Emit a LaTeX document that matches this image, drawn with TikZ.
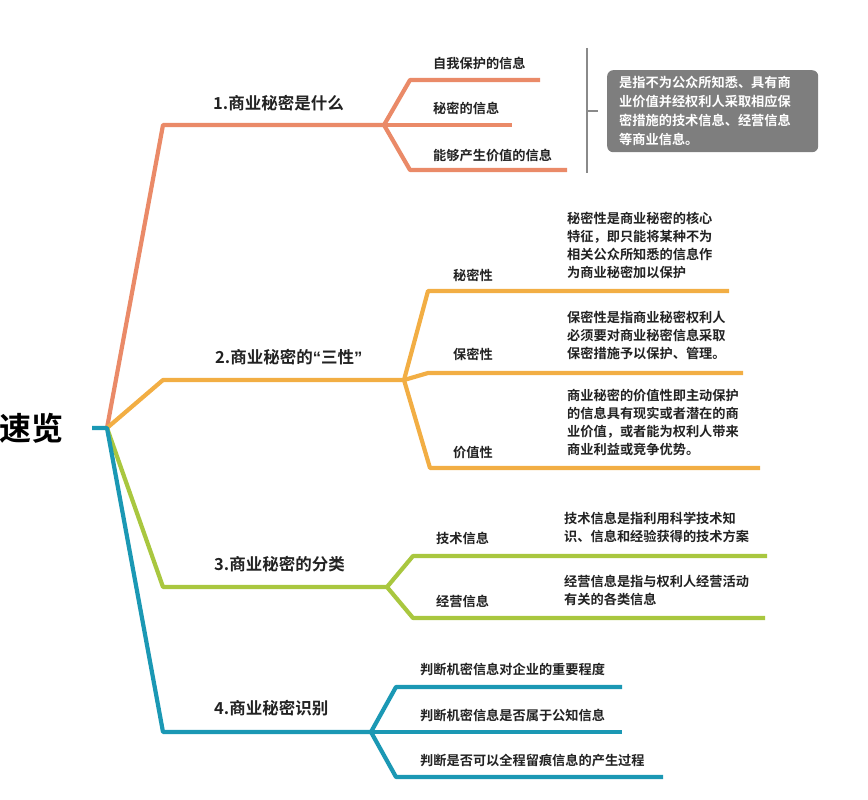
\documentclass[tikz,border=0pt]{standalone}
\usepackage{fontspec}
\setmainfont{Noto Sans CJK SC}
\newfontfamily\cjkb{Noto Sans CJK SC Bold}
\newfontfamily\qf{Liberation Sans Bold}
\definecolor{cOne}{HTML}{EA8A68}
\definecolor{cTwo}{HTML}{F2AE44}
\definecolor{cThree}{HTML}{A9C73F}
\definecolor{cFour}{HTML}{1B98B4}
\definecolor{cGray}{HTML}{7E7E7E}
\definecolor{cBrk}{HTML}{8A8A8A}
\definecolor{cTxt}{HTML}{222222}
\tikzset{
  br/.style={line width=4.2pt, line join=round, line cap=butt},
  mainlbl/.style={font=\cjkb\fontsize{16.5}{19}\selectfont, text=cTxt, anchor=west, inner sep=0pt},
  sublbl/.style={font=\cjkb\fontsize{13.2}{16}\selectfont, text=cTxt, anchor=west, inner sep=0pt},
  desc/.style={font=\cjkb\fontsize{13.2}{17.8}\selectfont, text=cTxt, anchor=north west, align=left, inner sep=0pt},
  graybox/.style={fill=cGray, rounded corners=6pt, text=white, font=\cjkb\fontsize{13.2}{19}\selectfont, align=left, anchor=north west, minimum width=211pt, minimum height=82pt, inner xsep=12pt, text width=187pt}
}
\begin{document}
\begin{tikzpicture}[x=1pt,y=-1pt]
\useasboundingbox (0,0) rectangle (868,800);
% root
\node[font=\cjkb\fontsize{32}{36}\selectfont, text=black, anchor=east, inner sep=0pt] (root) at (64,428) {速览};
\coordinate (rs) at (92,428);
\coordinate (r) at (107,428);
% branch corners
\coordinate (c1) at (163,125); \coordinate (f1) at (384,125);
\coordinate (c2) at (163,380); \coordinate (f2) at (404,380);
\coordinate (c3) at (163,587); \coordinate (f3) at (387,587);
\coordinate (c4) at (163,732); \coordinate (f4) at (371,732);
% branch 1
\draw[br, cOne] (r) -- (c1) -- (f1);
\coordinate (a1) at (410,80); \coordinate (e1) at (540,80);
\coordinate (e2) at (512,125);
\coordinate (a3) at (410,170); \coordinate (e3) at (567,170);
\draw[br, cOne] (f1) -- (a1) -- (e1);
\draw[br, cOne] (f1) -- (e2);
\draw[br, cOne] (f1) -- (a3) -- (e3);
\node[mainlbl] (l1) at (213,103) {1.商业秘密是什么};
\node[sublbl] (l11) at (433,63) {自我保护的信息};
\node[sublbl] (l12) at (433,108) {秘密的信息};
\node[sublbl] (l13) at (433,155) {能够产生价值的信息};
% bracket + gray box
\coordinate (bt) at (587,48); \coordinate (bb) at (587,173);
\coordinate (bm) at (587,111); \coordinate (bk) at (598,111);
\draw[cBrk, line width=2.2pt] (bt) -- (bb);
\draw[cBrk, line width=2.2pt] (bm) -- (bk);
\node[graybox] (gb) at (607,70) {是指不为公众所知悉、具有商\\业价值并经权利人采取相应保\\密措施的技术信息、经营信息\\等商业信息。};
% branch 2
\draw[br, cTwo] (r) -- (c2) -- (f2);
\coordinate (b1) at (428,291); \coordinate (g1) at (729,291);
\coordinate (b2) at (428,373); \coordinate (g2) at (743,373);
\coordinate (b3) at (430,468); \coordinate (g3) at (760,468);
\draw[br, cTwo] (f2) -- (b1) -- (g1);
\draw[br, cTwo] (f2) -- (b2) -- (g2);
\draw[br, cTwo] (f2) -- (b3) -- (g3);
\node[mainlbl] (l2) at (215,357) {2.商业秘密的{\qf “}三性{\qf ”}};
\node[sublbl] (l21) at (453,275) {秘密性};
\node[sublbl] (l22) at (453,354) {保密性};
\node[sublbl] (l23) at (453,453) {价值性};
\node[desc] (d21) at (567,212) {秘密性是商业秘密的核心\\特征，即只能将某种不为\\相关公众所知悉的信息作\\为商业秘密加以保护};
\node[desc] (d22) at (567,311) {保密性是指商业秘密权利人\\必须要对商业秘密信息采取\\保密措施予以保护、管理。};
\node[desc] (d23) at (567,389) {商业秘密的价值性即主动保护\\的信息具有现实或者潜在的商\\业价值，或者能为权利人带来\\商业利益或竞争优势。};
% branch 3
\draw[br, cThree] (r) -- (c3) -- (f3);
\coordinate (h1) at (413,556); \coordinate (k1) at (767,556);
\coordinate (h2) at (413,618); \coordinate (k2) at (765,618);
\draw[br, cThree] (f3) -- (h1) -- (k1);
\draw[br, cThree] (f3) -- (h2) -- (k2);
\node[mainlbl] (l3) at (214,564) {3.商业秘密的分类};
\node[sublbl] (l31) at (436,538) {技术信息};
\node[sublbl] (l32) at (436,601) {经营信息};
\node[desc] (d31) at (564,512) {技术信息是指利用科学技术知\\识、信息和经验获得的技术方案};
\node[desc] (d32) at (564,575) {经营信息是指与权利人经营活动\\有关的各类信息};
% branch 4
\draw[br, cFour] (rs) -- (r) -- (c4) -- (f4);
\coordinate (m1) at (396,687); \coordinate (n1) at (622,687);
\coordinate (n2) at (622,732);
\coordinate (m3) at (396,777); \coordinate (n3) at (663,777);
\draw[br, cFour] (f4) -- (m1) -- (n1);
\draw[br, cFour] (f4) -- (n2);
\draw[br, cFour] (f4) -- (m3) -- (n3);
\node[mainlbl] (l4) at (214,708) {4.商业秘密识别};
\node[sublbl] (l41) at (420,669) {判断机密信息对企业的重要程度};
\node[sublbl] (l42) at (420,715) {判断机密信息是否属于公知信息};
\node[sublbl] (l43) at (420,760) {判断是否可以全程留痕信息的产生过程};
\end{tikzpicture}
\end{document}
